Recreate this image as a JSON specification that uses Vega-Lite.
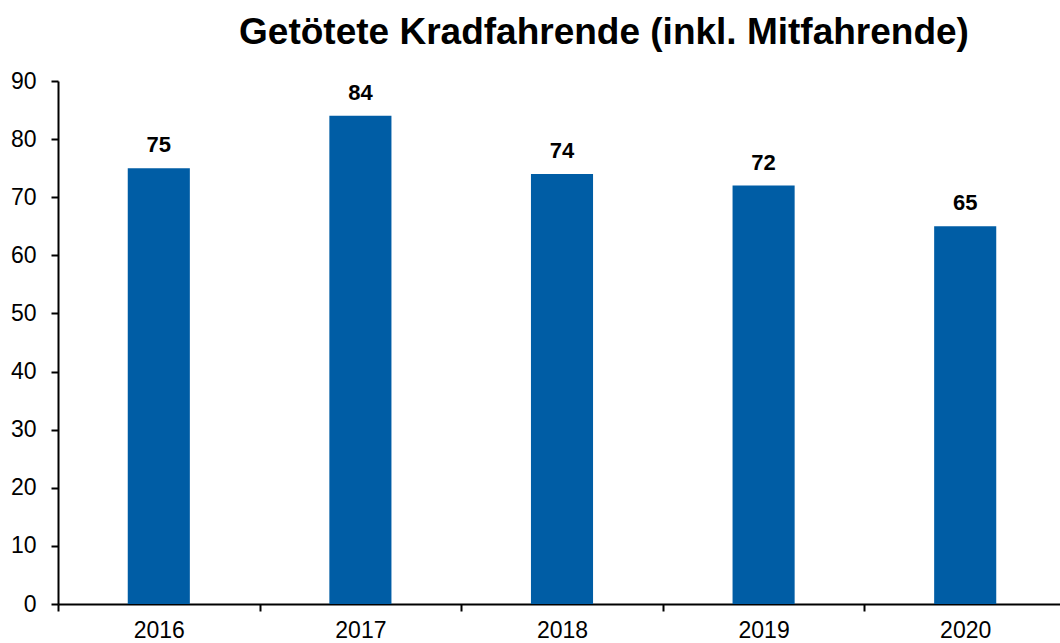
{
  "$schema": "https://vega.github.io/schema/vega-lite/v6.json",
  "autosize": "none",
  "width": 1008,
  "height": 523,
  "padding": {"left": 58, "top": 81, "right": 0, "bottom": 40},
  "background": "white",
  "title": {
    "text": "Getötete Kradfahrende (inkl. Mitfahrende)",
    "font": "Liberation Sans",
    "fontSize": 37,
    "fontWeight": "bold",
    "color": "black",
    "anchor": "middle",
    "dx": 42,
    "offset": 18
  },
  "config": {
    "view": {"stroke": null},
    "axis": {"labelFont": "Liberation Sans", "labelFontSize": 23, "labelColor": "black", "domainColor": "black", "tickColor": "black", "domainWidth": 2, "tickWidth": 2, "grid": false}
  },
  "data": {
    "values": [
      {"year": "2016", "value": 75},
      {"year": "2017", "value": 84},
      {"year": "2018", "value": 74},
      {"year": "2019", "value": 72},
      {"year": "2020", "value": 65}
    ]
  },
  "encoding": {
    "x": {
      "field": "year", "type": "nominal", "sort": null,
      "scale": {"paddingInner": 0, "paddingOuter": 0},
      "axis": {"title": null, "labelAngle": 0, "tickBand": "extent", "tickSize": 7, "labelPadding": 8}
    },
    "y": {
      "field": "value", "type": "quantitative",
      "scale": {"domain": [0, 90], "nice": false},
      "axis": {"title": null, "values": [0,10,20,30,40,50,60,70,80,90], "tickSize": 7, "labelPadding": 15}
    }
  },
  "layer": [
    {"mark": {"type": "bar", "color": "#005DA5", "width": {"band": 0.308}}},
    {"mark": {"type": "text", "font": "Liberation Sans", "fontSize": 22, "fontWeight": "bold", "color": "black", "baseline": "alphabetic", "dy": -16},
     "encoding": {"text": {"field": "value", "type": "quantitative"}}}
  ]
}
